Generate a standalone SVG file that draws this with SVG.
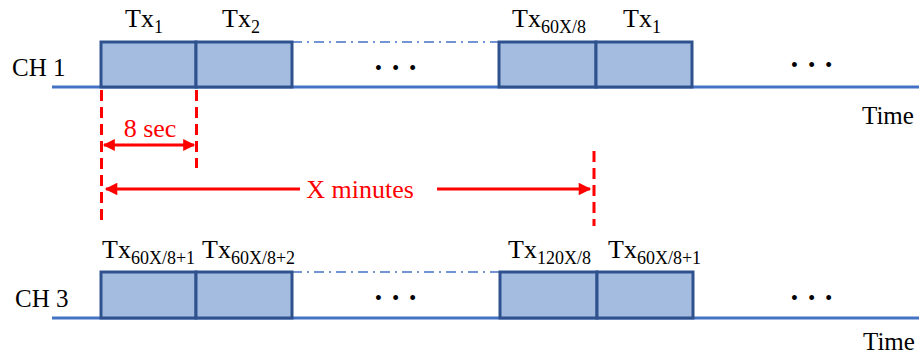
<svg xmlns="http://www.w3.org/2000/svg" width="919" height="356" viewBox="0 0 919 356">
  <defs>
    <style>
      .axis { stroke: #4472C4; stroke-width: 3; fill: none; }
      .slot { fill: #A4BCE0; stroke: #2F528F; stroke-width: 3; }
      .gap { stroke: #4472C4; stroke-width: 1.5; stroke-dasharray: 10 5 2 5; fill: none; }
      .lbl { font-family: "Liberation Serif", "Times New Roman", serif; fill: #000; }
      .tx { font-size: 26px; }
      .sub { font-size: 18px; }
      .ch { font-size: 25px; }
      .time { font-size: 25px; }
      .dots { font-size: 18px; letter-spacing: 2.9px; font-family: "Liberation Sans", Arial, sans-serif; }
      .red { stroke: #FF0000; stroke-width: 3; fill: none; }
      .rdash { stroke: #FF0000; stroke-width: 3; stroke-dasharray: 11 6; fill: none; }
      .rtext { font-family: "Liberation Serif", "Times New Roman", serif; font-size: 26px; fill: #FF0000; }
    </style>
    <marker id="ahead" viewBox="0 0 10 10" refX="9" refY="5" markerWidth="5" markerHeight="4.2" orient="auto-start-reverse" markerUnits="strokeWidth">
      <path d="M0,0 L10,5 L0,10 z" fill="#FF0000"/>
    </marker>
    <marker id="ahead-s" viewBox="0 0 10 10" refX="9" refY="5" markerWidth="4.5" markerHeight="4" orient="auto-start-reverse" markerUnits="strokeWidth">
      <path d="M0,0 L10,5 L0,10 z" fill="#FF0000"/>
    </marker>
  </defs>

  <!-- Channel 1 -->
  <g id="ch1">
    <line class="axis" x1="52" y1="87" x2="919" y2="87"/>
    <line class="gap" x1="292" y1="42" x2="499" y2="42"/>
    <text class="lbl ch" x="12" y="76">CH 1</text>
    <text class="lbl time" x="862" y="124">Time</text>
    <text class="dots" x="397" y="74" text-anchor="middle">• • •</text>
    <text class="dots" x="813" y="71" text-anchor="middle">• • •</text>
  </g>
  <g id="ch1-slot1">
    <rect class="slot" x="101" y="42" width="95" height="45"/>
    <text class="lbl tx" x="125" y="27">Tx<tspan class="sub" dy="6">1</tspan></text>
  </g>
  <g id="ch1-slot2">
    <rect class="slot" x="196" y="42" width="96" height="45"/>
    <text class="lbl tx" x="222" y="27">Tx<tspan class="sub" dy="6">2</tspan></text>
  </g>
  <g id="ch1-slot3">
    <rect class="slot" x="499" y="42" width="97" height="45"/>
    <text class="lbl tx" x="512" y="27">Tx<tspan class="sub" dy="6">60X/8</tspan></text>
  </g>
  <g id="ch1-slot4">
    <rect class="slot" x="596" y="42" width="96" height="45"/>
    <text class="lbl tx" x="623" y="27">Tx<tspan class="sub" dy="6">1</tspan></text>
  </g>

  <!-- Channel 3 -->
  <g id="ch3">
    <line class="axis" x1="52" y1="318" x2="919" y2="318"/>
    <line class="gap" x1="292" y1="272" x2="500" y2="272"/>
    <text class="lbl ch" x="15" y="307">CH 3</text>
    <text class="lbl time" x="863" y="350">Time</text>
    <text class="dots" x="397" y="304" text-anchor="middle">• • •</text>
    <text class="dots" x="813" y="304" text-anchor="middle">• • •</text>
  </g>
  <g id="ch3-slot1">
    <rect class="slot" x="101" y="272" width="95" height="46"/>
    <text class="lbl tx" x="102" y="258">Tx<tspan class="sub" dy="6">60X/8+1</tspan></text>
  </g>
  <g id="ch3-slot2">
    <rect class="slot" x="196" y="272" width="96" height="46"/>
    <text class="lbl tx" x="202" y="258">Tx<tspan class="sub" dy="6">60X/8+2</tspan></text>
  </g>
  <g id="ch3-slot3">
    <rect class="slot" x="500" y="272" width="97" height="46"/>
    <text class="lbl tx" x="508" y="258">Tx<tspan class="sub" dy="6">120X/8</tspan></text>
  </g>
  <g id="ch3-slot4">
    <rect class="slot" x="597" y="272" width="96" height="46"/>
    <text class="lbl tx" x="608" y="258">Tx<tspan class="sub" dy="6">60X/8+1</tspan></text>
  </g>

  <!-- Timing annotations -->
  <g id="connectors">
    <line class="rdash" x1="101.5" y1="90" x2="101.5" y2="226"/>
    <line class="rdash" x1="196.5" y1="90" x2="196.5" y2="168"/>
    <line class="rdash" x1="594" y1="151" x2="594" y2="226"/>
    <line class="red" stroke-width="2" x1="104" y1="145" x2="194" y2="145" marker-start="url(#ahead-s)" marker-end="url(#ahead-s)"/>
    <line class="red" x1="300" y1="189" x2="106" y2="189" marker-end="url(#ahead)"/>
    <line class="red" x1="437" y1="189" x2="590" y2="189" marker-end="url(#ahead)"/>
    <text class="rtext" x="150" y="137" text-anchor="middle">8 sec</text>
    <text class="rtext" x="360" y="198" text-anchor="middle">X minutes</text>
  </g>
</svg>
